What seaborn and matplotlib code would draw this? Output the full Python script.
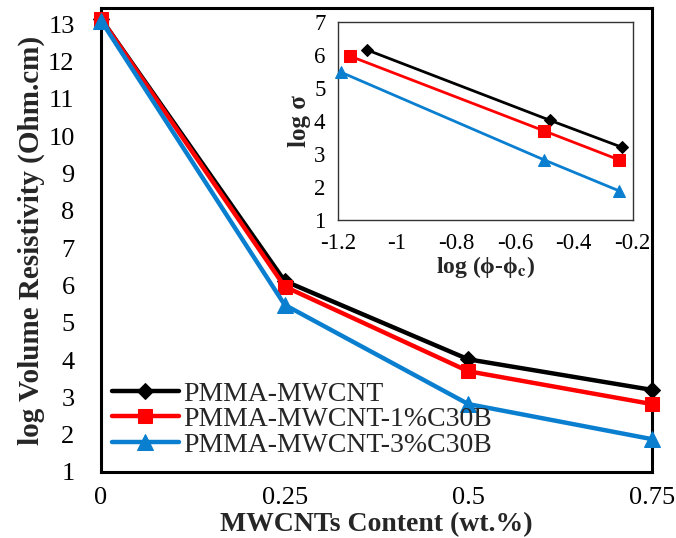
import matplotlib
matplotlib.use("Agg")
import matplotlib.pyplot as plt
import seaborn as sns

# main plot: log volume resistivity vs MWCNT content
content = [0, 0.25, 0.5, 0.75]
res_pmma = [13.15, 6.12, 4.02, 3.2]
res_1c30b = [13.15, 5.97, 3.7, 2.82]
res_3c30b = [13.1, 5.48, 2.82, 1.88]

# inset: log sigma vs log(phi - phi_c)
lx_pmma = [-1.1, -0.48, -0.235]
ls_pmma = [6.15, 4.02, 3.2]
lx_1c30b = [-1.16, -0.5, -0.245]
ls_1c30b = [5.97, 3.7, 2.82]
lx_3c30b = [-1.19, -0.5, -0.245]
ls_3c30b = [5.48, 2.82, 1.88]

labels = ["PMMA-MWCNT", "PMMA-MWCNT-1%C30B", "PMMA-MWCNT-3%C30B"]
colors = ["#000000", "#ff0000", "#0a7fd0"]
markers = ["D", "s", "^"]
msizes = [8, 10, 11]

sns.set_style("white")
plt.rcParams['font.family'] = ['Liberation Serif', 'DejaVu Serif']
plt.rcParams['mathtext.fontset'] = 'stix'

fig = plt.figure(figsize=(6.76, 5.38), dpi=100)
ax = fig.add_axes([0.1494, 0.1227, 0.815, 0.862])

for y, lab, c, m, ms in zip([res_pmma, res_1c30b, res_3c30b], labels, colors, markers, msizes):
    sns.lineplot(x=content, y=y, ax=ax, color=c, marker=m, markersize=ms, linewidth=3.2,
                 markeredgecolor=c, label=lab, clip_on=False, zorder=3)

ax.set_xlim(0, 0.75)
ax.set_ylim(1, 13.43)
ax.set_xticks(content)
ax.set_xticklabels(["0", "0.25", "0.5", "0.75"])
ax.set_yticks(range(1, 14))
ax.tick_params(axis='x', direction='inout', length=10, width=2, labelsize=19, pad=6, colors='black')
ax.tick_params(axis='y', direction='out', length=6, width=2, labelsize=19, pad=13, colors='black')
for sp in ax.spines.values():
    sp.set_linewidth(2.2)
    sp.set_color('black')
ax.set_xlabel("MWCNTs Content (wt.%)", fontsize=20, fontweight='bold', labelpad=2)
ax.set_ylabel("log Volume Resistivity (Ohm.cm)", fontsize=21, fontweight='bold', labelpad=2)
leg = ax.legend(loc='lower left', bbox_to_anchor=(-0.01, -0.005), frameon=False, fontsize=20,
                handlelength=2.4, handletextpad=0.15, labelspacing=0.0, borderaxespad=0.2)

# inset
ins = fig.add_axes([0.5, 0.591, 0.436, 0.368])
for xs, ys, c, m, ms in zip([lx_pmma, lx_1c30b, lx_3c30b], [ls_pmma, ls_1c30b, ls_3c30b],
                            colors, markers, [6.5, 8, 8.5]):
    sns.lineplot(x=xs, y=ys, ax=ins, color=c, marker=m, markersize=ms, linewidth=2,
                 markeredgecolor=c, clip_on=False, zorder=3, legend=False)
ins.set_xlim(-1.2, -0.2)
ins.set_ylim(1, 7)
ins.set_xticks([-1.2, -1, -0.8, -0.6, -0.4, -0.2])
ins.set_xticklabels(["-1.2", "-1", "-0.8", "-0.6", "-0.4", "-0.2"])
ins.set_yticks(range(1, 8))
ins.tick_params(direction='out', length=4, width=1, labelsize=16.5, pad=5, colors='black')
for sp in ins.spines.values():
    sp.set_linewidth(1)
    sp.set_color('#333333')
ins.set_xlabel("log (\u03d5-\u03d5$_{\\mathbf{c}}$)", fontsize=17, fontweight='bold', labelpad=0)
ins.set_ylabel("log \u03c3", fontsize=18, fontweight='bold', labelpad=2)

fig.savefig("out.png", dpi=100)
